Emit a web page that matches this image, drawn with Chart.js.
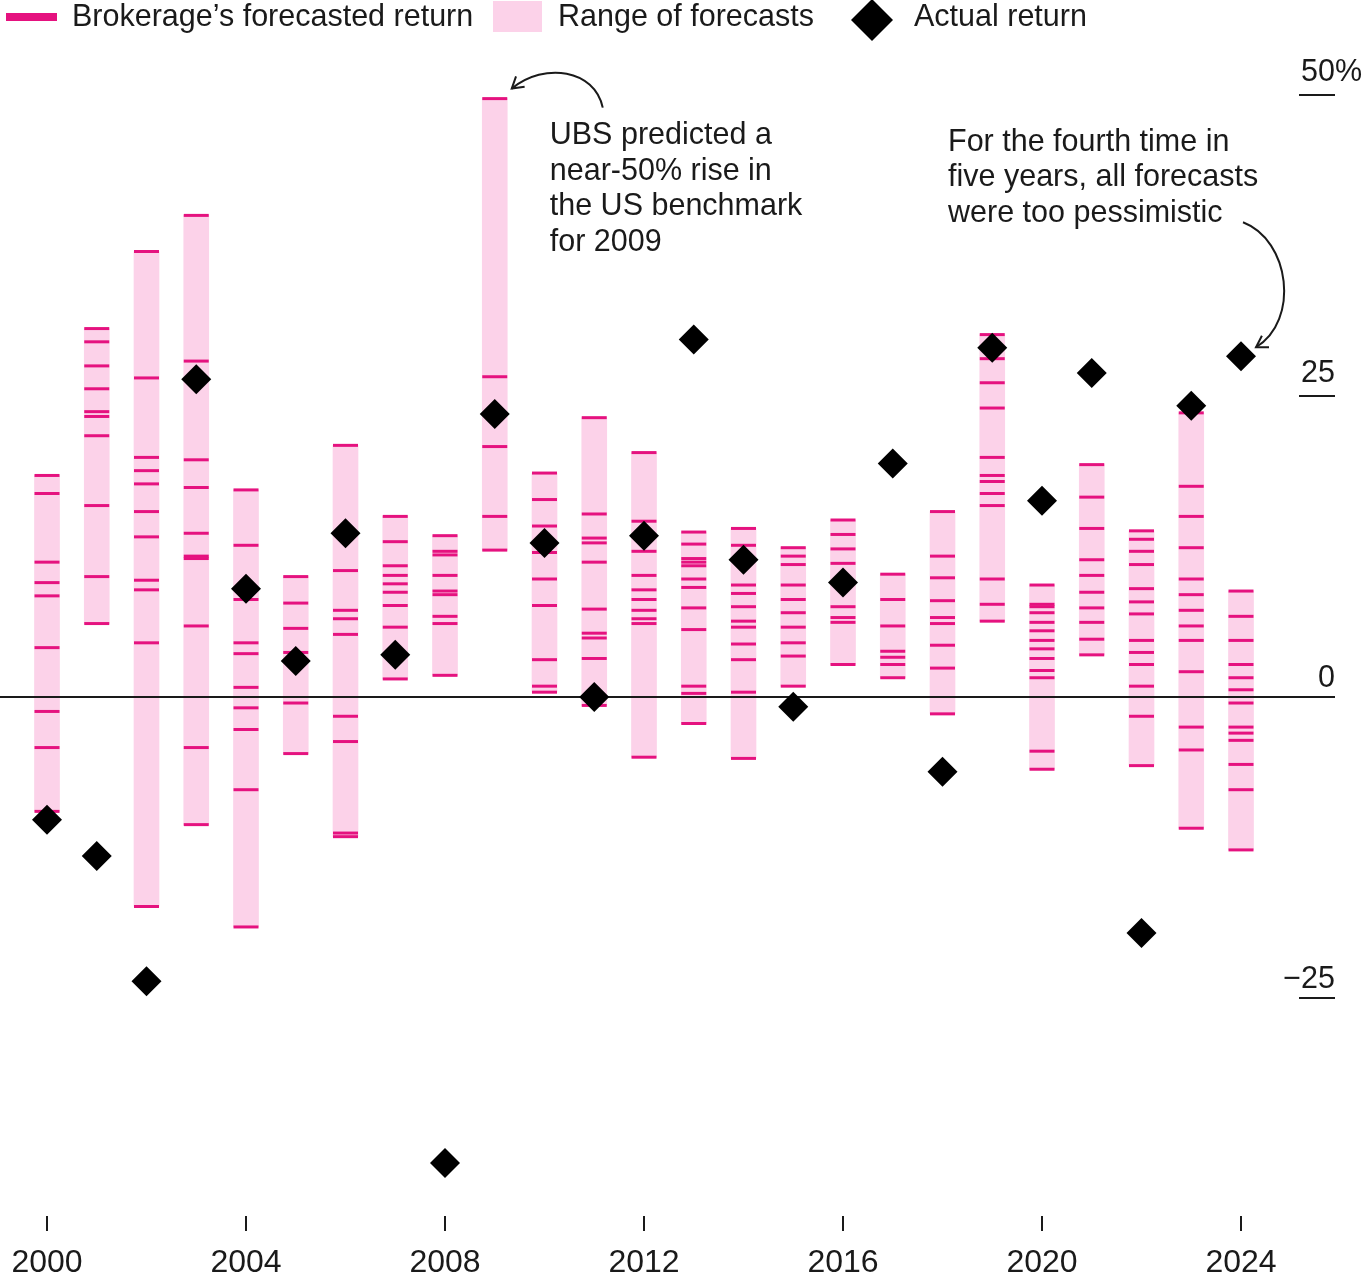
<!DOCTYPE html>
<html>
<head>
<meta charset="utf-8">
<title>Brokerage forecasts vs actual return</title>
<script src="https://cdn.jsdelivr.net/npm/chart.js@4.4.1/dist/chart.umd.min.js"></script>
<style>
  html, body { margin: 0; padding: 0; background: #fff; }
  canvas { display: block; }
</style>
</head>
<body>
<canvas id="forecastChart" width="1364" height="1281"></canvas>
<script>
// Years shown on the chart
var years = [2000, 2001, 2002, 2003, 2004, 2005, 2006, 2007, 2008, 2009, 2010, 2011, 2012,
  2013, 2014, 2015, 2016, 2017, 2018, 2019, 2020, 2021, 2022, 2023, 2024];

// Actual return of the index, %
var actualReturn = [-10.2, -13.2, -23.6, 26.4, 9.0, 3.0, 13.6, 3.5, -38.7, 23.5, 12.8, 0.0, 13.4,
  29.7, 11.4, -0.8, 9.5, 19.4, -6.2, 29.0, 16.3, 26.9, -19.6, 24.2, 28.3];

// Each brokerage's forecasted return, one list per year, %
var forecasts = [
  [18.4, 16.9, 11.2, 9.5, 8.4, 4.1, -1.2, -4.2, -9.5],
  [30.6, 29.5, 27.5, 25.6, 23.7, 23.3, 21.7, 15.9, 10.0, 6.1],
  [37.0, 26.5, 19.9, 18.8, 17.7, 15.4, 13.3, 9.7, 8.9, 4.5, -17.4],
  [40.0, 27.9, 19.7, 17.4, 13.6, 11.7, 11.5, 5.9, -4.2, -10.6],
  [17.2, 12.6, 8.1, 4.5, 3.6, 0.8, -0.9, -2.7, -7.7, -19.1],
  [10.0, 7.8, 5.7, 3.7, -0.5, -4.7],
  [20.9, 10.5, 7.2, 6.5, 5.2, -1.6, -3.7, -11.3, -11.6],
  [15.0, 12.9, 10.9, 10.1, 9.4, 8.7, 7.6, 5.8, 1.5],
  [13.4, 12.1, 11.8, 10.1, 8.8, 8.5, 6.7, 6.1, 1.8],
  [49.7, 26.6, 20.8, 15.0, 12.2],
  [18.6, 16.4, 14.2, 12.0, 9.8, 7.6, 3.1, 0.9, 0.4],
  [23.2, 15.2, 13.2, 12.8, 11.2, 7.3, 5.3, 4.9, 3.2, -0.7],
  [20.3, 14.6, 12.1, 10.1, 8.9, 8.1, 7.2, 6.5, 6.1, -5.0],
  [13.7, 12.7, 11.5, 11.2, 10.9, 9.8, 9.1, 7.4, 5.6, 0.9, 0.3, -2.2],
  [14.0, 12.6, 9.3, 8.6, 7.5, 6.3, 5.8, 4.4, 3.1, 0.4, -5.1],
  [12.4, 11.7, 11.0, 9.3, 8.1, 7.0, 5.8, 4.5, 3.4, 0.9],
  [14.7, 13.5, 12.3, 11.1, 7.5, 6.6, 6.2, 2.7],
  [10.2, 8.1, 5.9, 3.8, 3.3, 2.7, 1.6],
  [15.4, 11.7, 9.9, 8.0, 6.6, 6.1, 4.3, 2.4, -1.4],
  [30.1, 28.1, 26.1, 24.0, 19.9, 18.4, 17.9, 16.9, 15.9, 9.8, 7.7, 6.3],
  [9.3, 7.7, 7.5, 7.0, 6.2, 5.5, 4.7, 4.0, 3.2, 2.2, 1.6, -4.5, -6.0],
  [19.3, 16.6, 14.0, 11.4, 10.1, 8.7, 7.4, 6.2, 4.8, 3.5],
  [13.8, 13.1, 12.1, 11.0, 9.0, 7.9, 6.9, 4.7, 3.7, 2.7, 0.9, -1.6, -5.7],
  [23.6, 17.5, 15.0, 12.4, 9.8, 8.5, 7.2, 5.9, 4.7, 2.1, -2.5, -4.4, -10.9],
  [8.8, 6.7, 4.7, 2.7, 1.6, 0.6, -0.5, -2.5, -3.0, -3.6, -5.6, -7.7, -12.7]
];

// Axis ticks
var xTickYears = [2000, 2004, 2008, 2012, 2016, 2020, 2024];
var yTickValues = [50, 25, 0, -25];
var yTickLabels = ['50', '25', '0', '\u221225'];

var TICK_COLOR = '#e5127f';
var RANGE_COLOR = '#fcd2e9';
var INK = '#1a1a1a';
var FONT = '"Liberation Sans", Arial, sans-serif';

// Build the datasets from the arrays above
var rangeData = years.map(function (yr, i) {
  return { x: yr, y: [Math.min.apply(null, forecasts[i]), Math.max.apply(null, forecasts[i])] };
});
var tickData = [];
years.forEach(function (yr, i) {
  forecasts[i].forEach(function (v) { tickData.push({ x: yr, y: v }); });
});
var actualData = years.map(function (yr, i) { return { x: yr, y: actualReturn[i] }; });

function arrow(ctx, p0, p1, p2, p3) {
  ctx.beginPath();
  ctx.moveTo(p0[0], p0[1]);
  ctx.bezierCurveTo(p1[0], p1[1], p2[0], p2[1], p3[0], p3[1]);
  ctx.stroke();
  var ang = Math.atan2(p3[1] - p2[1], p3[0] - p2[0]);
  var len = 13;
  ctx.beginPath();
  ctx.moveTo(p3[0] - len * Math.cos(ang - 0.55), p3[1] - len * Math.sin(ang - 0.55));
  ctx.lineTo(p3[0], p3[1]);
  ctx.lineTo(p3[0] - len * Math.cos(ang + 0.55), p3[1] - len * Math.sin(ang + 0.55));
  ctx.stroke();
}

var decorPlugin = {
  id: 'decor',
  beforeDraw: function (chart) {
    var ctx = chart.ctx;
    ctx.save();
    ctx.fillStyle = '#fff';
    ctx.fillRect(0, 0, chart.width, chart.height);
    ctx.restore();
  },
  // zero line sits above the pink ranges but under the ticks and diamonds
  afterDatasetDraw: function (chart, args) {
    if (args.meta.type !== 'bar') return;
    var ctx = chart.ctx;
    var y0 = chart.scales.y.getPixelForValue(0);
    ctx.save();
    ctx.strokeStyle = INK;
    ctx.lineWidth = 2;
    ctx.beginPath();
    ctx.moveTo(0, y0);
    ctx.lineTo(1335, y0);
    ctx.stroke();
    ctx.restore();
  },
  afterDraw: function (chart) {
    var ctx = chart.ctx;
    var xs = chart.scales.x, ys = chart.scales.y;
    ctx.save();
    ctx.fillStyle = INK;
    ctx.strokeStyle = INK;

    // y axis labels on the right, with short underlines
    ctx.font = '30.5px ' + FONT;
    ctx.textBaseline = 'alphabetic';
    yTickValues.forEach(function (v, i) {
      var py = ys.getPixelForValue(v);
      if (v !== 0) {
        ctx.lineWidth = 2;
        ctx.beginPath();
        ctx.moveTo(1299, py);
        ctx.lineTo(1335, py);
        ctx.stroke();
      }
      var off = v > 0 ? 14 : 10;
      ctx.textAlign = 'right';
      ctx.fillText(yTickLabels[i], 1335, py - off);
      if (i === 0) {
        ctx.textAlign = 'left';
        ctx.fillText('%', 1335, py - off);
      }
    });

    // x axis ticks and labels
    ctx.font = '32px ' + FONT;
    ctx.textAlign = 'center';
    ctx.textBaseline = 'middle';
    xTickYears.forEach(function (yr) {
      var px = xs.getPixelForValue(yr);
      ctx.lineWidth = 2;
      ctx.beginPath();
      ctx.moveTo(px, 1216);
      ctx.lineTo(px, 1231);
      ctx.stroke();
      ctx.fillText(String(yr), px, 1263);
    });

    // legend
    ctx.font = '30.5px ' + FONT;
    ctx.textAlign = 'left';
    ctx.textBaseline = 'middle';
    ctx.fillStyle = TICK_COLOR;
    ctx.fillRect(6, 13, 51, 8);
    ctx.fillStyle = RANGE_COLOR;
    ctx.fillRect(493, 1, 49, 31);
    ctx.fillStyle = '#000';
    ctx.beginPath();
    ctx.moveTo(872, -1);
    ctx.lineTo(893, 20);
    ctx.lineTo(872, 41);
    ctx.lineTo(851, 20);
    ctx.closePath();
    ctx.fill();
    ctx.fillStyle = INK;
    ctx.fillText('Brokerage\u2019s forecasted return', 72, 18);
    ctx.fillText('Range of forecasts', 558, 18);
    ctx.fillText('Actual return', 914, 18);

    // annotation for the UBS 2009 call
    var ax = xs.getPixelForValue(2009), ay = ys.getPixelForValue(49.7);
    ['UBS predicted a', 'near-50% rise in', 'the US benchmark', 'for 2009'].forEach(function (t, i) {
      ctx.fillText(t, ax + 55, ay + 37 + i * 35.5);
    });
    ctx.lineWidth = 2;
    arrow(ctx, [ax + 108, ay + 9], [ax + 100, ay - 29], [ax + 50, ay - 37], [ax + 17, ay - 10]);

    // annotation for 2024
    var bx = xs.getPixelForValue(2024), by = ys.getPixelForValue(actualReturn[24]);
    ['For the fourth time in', 'five years, all forecasts', 'were too pessimistic'].forEach(function (t, i) {
      ctx.fillText(t, bx - 293, by - 214 + i * 35.5);
    });
    arrow(ctx, [bx + 2, by - 134], [bx + 49, by - 116], [bx + 59, by - 36], [bx + 15, by - 9]);

    ctx.restore();
  }
};

var ctx = document.getElementById('forecastChart').getContext('2d');
var chart = new Chart(ctx, {
  type: 'bar',
  data: {
    datasets: [{
      type: 'scatter',
      label: 'Actual return',
      data: actualData,
      pointStyle: 'rectRot',
      pointRadius: 15,
      backgroundColor: '#000',
      borderColor: '#000',
      borderWidth: 0,
      order: 0
    }, {
      type: 'scatter',
      label: 'Brokerage\u2019s forecasted return',
      data: tickData,
      pointStyle: 'line',
      pointRadius: 12.5,
      borderColor: TICK_COLOR,
      borderWidth: 3,
      order: 1
    }, {
      type: 'bar',
      label: 'Range of forecasts',
      data: rangeData,
      backgroundColor: RANGE_COLOR,
      borderWidth: 0,
      borderSkipped: false,
      barThickness: 25,
      order: 2
    }]
  },
  options: {
    responsive: false,
    animation: false,
    events: [],
    layout: { padding: 0, autoPadding: false },
    plugins: { legend: { display: false }, tooltip: { enabled: false } },
    scales: {
      x: { type: 'linear', display: false, offset: false, min: 1999.0553, max: 2026.4723 },
      y: { type: 'linear', display: false, min: -48.505, max: 57.890 }
    }
  },
  plugins: [decorPlugin]
});
</script>
</body>
</html>
